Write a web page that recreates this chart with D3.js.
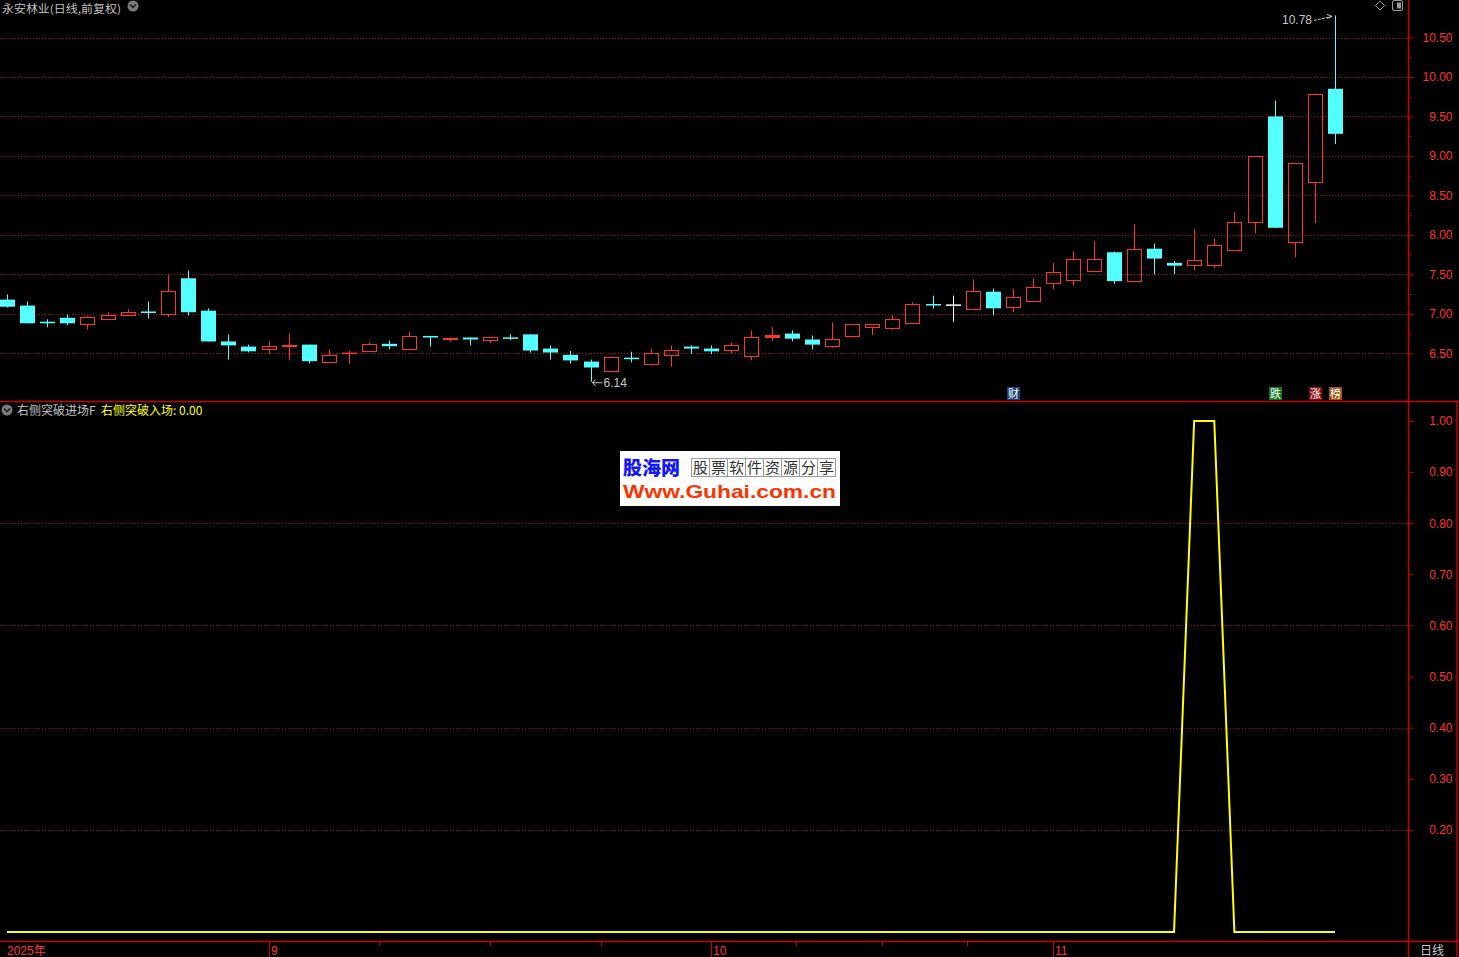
<!DOCTYPE html>
<html><head><meta charset="utf-8">
<script src="https://cdn.jsdelivr.net/npm/d3@7/dist/d3.min.js"></script>
<style>
html,body{margin:0;padding:0;background:#000;overflow:hidden}
svg{display:block}
text{font-family:"Noto Sans CJK SC","DejaVu Sans",sans-serif}
</style></head>
<body><svg id="c" width="1459" height="957"></svg>
<script>
// ---------------- data ----------------
const stockTitle = "永安林业(日线,前复权)";
const indicatorName = "右侧突破进场F";
const indicatorSeries = "右侧突破入场";
const opens  = [7.18,7.105,6.90,6.95,6.87,6.93,6.99,7.03,7.00,7.45,7.04,6.65,6.585,6.555,6.595,6.61,6.385,6.50,6.525,6.62,6.555,6.72,6.68,6.70,6.665,6.70,6.74,6.56,6.48,6.395,6.27,6.445,6.37,6.48,6.585,6.56,6.54,6.46,6.705,6.75,6.675,6.59,6.715,6.83,6.815,6.88,7.12,7.11,7.06,7.28,7.085,7.16,7.39,7.43,7.545,7.78,7.41,7.825,7.645,7.62,7.62,7.81,8.157,9.50,7.905,8.665,9.85];
const highs  = [7.245,7.156,6.93,6.99,6.97,7.02,7.06,7.156,7.49,7.55,7.07,6.74,6.61,6.65,6.75,6.61,6.55,6.53,6.63,6.66,6.775,6.72,6.70,6.70,6.71,6.74,6.74,6.60,6.53,6.42,6.46,6.52,6.56,6.60,6.60,6.60,6.635,6.79,6.83,6.79,6.725,6.89,6.865,6.87,6.98,7.145,7.23,7.23,7.435,7.32,7.32,7.445,7.64,7.79,7.92,7.79,8.135,7.89,7.67,8.07,7.95,8.285,9.00,9.70,8.91,9.79,10.78];
const lows   = [7.08,6.88,6.83,6.855,6.80,6.92,6.97,6.94,6.96,6.98,6.65,6.42,6.51,6.49,6.41,6.37,6.385,6.37,6.52,6.55,6.555,6.585,6.65,6.60,6.63,6.665,6.51,6.42,6.37,6.14,6.26,6.385,6.36,6.33,6.49,6.49,6.50,6.41,6.66,6.65,6.55,6.57,6.70,6.73,6.80,6.88,7.065,6.90,7.06,6.98,7.02,7.16,7.315,7.36,7.545,7.38,7.41,7.50,7.50,7.555,7.58,7.81,8.02,8.09,7.715,8.15,9.15];
const closes = [7.09,6.88,6.88,6.88,6.965,6.99,7.025,7.01,7.29,7.02,6.65,6.60,6.525,6.595,6.605,6.40,6.48,6.50,6.62,6.59,6.72,6.70,6.70,6.675,6.71,6.685,6.535,6.51,6.41,6.32,6.45,6.425,6.50,6.54,6.56,6.525,6.605,6.71,6.735,6.685,6.61,6.675,6.865,6.87,6.94,7.13,7.11,7.11,7.29,7.07,7.215,7.34,7.53,7.70,7.70,7.415,7.815,7.70,7.61,7.685,7.87,8.165,8.995,8.09,8.91,9.79,9.28];
const signal = [0,0,0,0,0,0,0,0,0,0,0,0,0,0,0,0,0,0,0,0,0,0,0,0,0,0,0,0,0,0,0,0,0,0,0,0,0,0,0,0,0,0,0,0,0,0,0,0,0,0,0,0,0,0,0,0,0,0,0,1,1,0,0,0,0,0,0];
const priceTicks = [6.5,7.0,7.5,8.0,8.5,9.0,9.5,10.0,10.5];
const priceMinorTicks = [6.75,7.25,7.75,8.25,8.75,9.25,9.75,10.25];
const signalTicks = [0.2,0.3,0.4,0.5,0.6,0.7,0.8,0.9,1.0];
const signalGrid = [0.2,0.4,0.6,0.8];
const monthLabels = ["2025年","9","10","11"];
const monthIndex  = [0,13,35,52];
const minorTimeTicks = [18.5,24,29.5,39.2,43.5,47.7];
const markers = [{t:"财",i:50},{t:"跌",i:63},{t:"涨",i:65},{t:"榜",i:66}];

// ---------------- drawing ----------------
const svg = d3.select("#c");
const W = 1459, H = 957, AX = 1408;
const RED = "#ff3232", CYAN = "#54ffff", GRID = "#b40000", FRAME = "#c80000";

const n = opens.length;
const x = d3.scaleLinear().domain([0, n-1]).range([7, 1335]);
const y = d3.scaleLinear().domain([6.5, 10.5]).range([353.3, 37.5]);
const y2 = d3.scaleLinear().domain([0, 1]).range([932, 421]);

svg.append("rect").attr("width",W).attr("height",H).attr("fill","#000");

// grid lines
const g = svg.append("g");
g.selectAll(".pg").data(priceTicks).join("line")
  .attr("x1",0).attr("x2",AX).attr("y1",d=>Math.round(y(d))+0.5).attr("y2",d=>Math.round(y(d))+0.5)
  .attr("stroke",GRID).attr("stroke-dasharray","1,2");
g.selectAll(".sg").data(signalGrid).join("line")
  .attr("x1",0).attr("x2",AX).attr("y1",d=>Math.round(y2(d))+0.5).attr("y2",d=>Math.round(y2(d))+0.5)
  .attr("stroke",GRID).attr("stroke-dasharray","1,2");

// frames
const fr = svg.append("g").attr("stroke",FRAME).attr("stroke-width",1.5);
fr.append("line").attr("x1",0).attr("x2",W).attr("y1",401.5).attr("y2",401.5);
fr.append("line").attr("x1",0).attr("x2",W).attr("y1",941.5).attr("y2",941.5);
fr.append("line").attr("x1",AX+0.5).attr("x2",AX+0.5).attr("y1",0).attr("y2",H);
fr.append("line").attr("x1",1457).attr("x2",1457).attr("y1",401.5).attr("y2",H);

// price axis
const ya = d3.axisRight(y).tickValues(priceTicks).tickSize(5).tickFormat(d3.format(".2f"));
const yag = svg.append("g").attr("transform",`translate(${AX+0.5},0)`).call(ya);
yag.select(".domain").remove();
yag.selectAll(".tick line").attr("stroke",FRAME);
yag.selectAll(".tick text").attr("fill",RED).attr("x",44).attr("text-anchor","end")
  .style("font-family","'Liberation Sans',Arial,sans-serif").style("font-size","12px");
const yam = d3.axisRight(y).tickValues(priceMinorTicks).tickSize(3).tickFormat("");
const yamg = svg.append("g").attr("transform",`translate(${AX+0.5},0)`).call(yam);
yamg.select(".domain").remove();
yamg.selectAll(".tick line").attr("stroke",FRAME);

// signal axis
const sa = d3.axisRight(y2).tickValues(signalTicks).tickSize(5).tickFormat(d3.format(".2f"));
const sag = svg.append("g").attr("transform",`translate(${AX+0.5},0)`).call(sa);
sag.select(".domain").remove();
sag.selectAll(".tick line").attr("stroke",FRAME);
sag.selectAll(".tick text").attr("fill",RED).attr("x",44).attr("text-anchor","end")
  .style("font-family","'Liberation Sans',Arial,sans-serif").style("font-size","12px");

// time axis
const tg = svg.append("g");
tg.selectAll(".mt").data(monthIndex.slice(1)).join("line")
  .attr("x1",d=>Math.round(x(d))+0.5).attr("x2",d=>Math.round(x(d))+0.5)
  .attr("y1",942).attr("y2",957).attr("stroke",FRAME);
tg.selectAll(".mtl").data(monthLabels).join("text")
  .attr("x",(d,i)=> i===0 ? 7 : Math.round(x(monthIndex[i]))+2).attr("y",955)
  .attr("fill",RED).style("font-size","12px").style("font-family","'Liberation Sans','Noto Sans CJK SC',sans-serif")
  .text(d=>d);
tg.selectAll(".st").data(minorTimeTicks).join("line")
  .attr("x1",d=>Math.round(x(d))+0.5).attr("x2",d=>Math.round(x(d))+0.5)
  .attr("y1",942).attr("y2",946).attr("stroke",FRAME);
svg.append("text").attr("x",1432).attr("y",955).attr("text-anchor","middle")
  .attr("fill","#c8c8c8").style("font-size","12px").text("日线");

// candles
const cg = svg.append("g");
const bw = 14;
for (let i=0;i<n;i++){
  const o=opens[i], c=closes[i], h=highs[i], l=lows[i];
  let col;
  if (c>o) col=RED; else if (c<o) col=CYAN;
  else { const pc = i>0?closes[i-1]:c; col = c>pc?RED:(c<pc?CYAN:"#ffffff"); }
  const cx = Math.round(x(i))+0.5;
  const top = y(Math.max(o,c)), bot = y(Math.min(o,c));
  if (c>o){
    const t = Math.round(top)+0.5, b = Math.round(bot)+0.5;
    cg.append("line").attr("x1",cx).attr("x2",cx).attr("y1",y(h)).attr("y2",t).attr("stroke",col);
    cg.append("line").attr("x1",cx).attr("x2",cx).attr("y1",b).attr("y2",y(l)).attr("stroke",col);
    if (b-t < 2.5){
      cg.append("rect").attr("x",cx-7.5).attr("y",t-0.5).attr("width",bw+1).attr("height",Math.max(2,b-t+1)).attr("fill",col);
    } else {
      cg.append("rect").attr("x",cx-7).attr("y",t).attr("width",bw).attr("height",b-t)
        .attr("fill","none").attr("stroke",col);
    }
  } else {
    cg.append("line").attr("x1",cx).attr("x2",cx).attr("y1",y(h)).attr("y2",y(l)).attr("stroke",col);
    const hh = Math.max(1.5, bot-top);
    cg.append("rect").attr("x",cx-7.5).attr("y",(top+bot)/2-hh/2).attr("width",bw+1).attr("height",hh).attr("fill",col);
  }
}

// max / min labels
const iMax = d3.maxIndex(highs), iMin = d3.minIndex(lows);
const mx = x(iMax), my = y(highs[iMax]);
svg.append("text").attr("x",mx-23).attr("y",my+9).attr("text-anchor","end")
  .attr("fill","#c8c8c8").style("font-size","12px").style("font-family","'Liberation Sans',Arial,sans-serif")
  .text(highs[iMax].toFixed(2));
svg.append("path").attr("d",`M${mx-21},${my+5} L${mx-3},${my+1}`).attr("stroke","#c8c8c8").attr("fill","none").attr("stroke-dasharray","3,1");
svg.append("path").attr("d",`M${mx-8},${my-1} L${mx-3},${my+1} L${mx-8},${my+3}`).attr("stroke","#c8c8c8").attr("fill","none");
const nx = x(iMin), ny = y(lows[iMin]);
svg.append("path").attr("d",`M${nx+2},${ny+1} L${nx+12},${ny+1}`).attr("stroke","#c8c8c8");
svg.append("path").attr("d",`M${nx+5},${ny-2} L${nx+2},${ny+1} L${nx+5},${ny+4}`).attr("stroke","#c8c8c8").attr("fill","none");
svg.append("text").attr("x",nx+13).attr("y",ny+5.5)
  .attr("fill","#c8c8c8").style("font-size","12px").style("font-family","'Liberation Sans',Arial,sans-serif")
  .text(lows[iMin].toFixed(2));

// markers
const mcol = {"财":"#1c3f7c","跌":"#0b7a1e","涨":"#8a0d0d","榜":"#9a5210"};
markers.forEach(m=>{
  const cx = Math.round(x(m.i));
  svg.append("rect").attr("x",cx-6).attr("y",387).attr("width",13).attr("height",13).attr("fill",mcol[m.t]);
  svg.append("text").attr("x",cx+0.5).attr("y",398).attr("text-anchor","middle").attr("fill","#ffffff")
    .style("font-size","11px").text(m.t);
});

// signal line
svg.append("path").datum(signal)
  .attr("d", d3.line().x((d,i)=>x(i)).y(d=>y2(d)))
  .attr("fill","none").attr("stroke","#ffff00").attr("stroke-width",2);

// titles
svg.append("text").attr("x",2).attr("y",13).attr("fill","#c0c0c0").style("font-size","11px")
  .attr("textLength",119).attr("lengthAdjust","spacingAndGlyphs").text(stockTitle);
function chevIcon(cx,cy){
  svg.append("circle").attr("cx",cx).attr("cy",cy).attr("r",5.5).attr("fill","#7a7a7a");
  svg.append("path").attr("d",`M${cx-3},${cy-1.5} L${cx},${cy+1.5} L${cx+3},${cy-1.5}`).attr("stroke","#1a1a1a").attr("stroke-width",1.5).attr("fill","none");
}
chevIcon(133,6);
chevIcon(7,410);
svg.append("text").attr("x",17).attr("y",414.5).attr("fill","#c0c0c0").style("font-size","12px").text(indicatorName);
svg.append("text").attr("x",101).attr("y",414.5).attr("fill","#ffff00").style("font-size","12px")
  .text(indicatorSeries + ": " + signal[n-1].toFixed(2));

// top-right icons
svg.append("path").attr("d","M1380,1 L1384.5,5.5 L1380,10 L1375.5,5.5 Z").attr("fill","none").attr("stroke","#9a9a9a");
svg.append("rect").attr("x",1392.5).attr("y",0.5).attr("width",10).attr("height",10).attr("rx",1.5).attr("fill","none").attr("stroke","#9a9a9a");
svg.append("rect").attr("x",1397).attr("y",2.5).attr("width",4).attr("height",6).attr("fill","#9a9a9a");

// watermark
const wm = svg.append("g");
wm.append("rect").attr("x",620).attr("y",451).attr("width",220).attr("height",55).attr("fill","#ffffff");
wm.append("text").attr("x",623).attr("y",475).attr("fill","#1414ff").style("font-size","19px").style("font-weight","900").text("股海网");
const wmChars = "股票软件资源分享".split("");
wm.selectAll(".wc").data(wmChars).join("rect").attr("x",(d,i)=>691.5+i*18).attr("y",458.5).attr("width",18).attr("height",18)
  .attr("fill","#ffffff").attr("stroke","#9a9a9a");
wm.selectAll(".wt").data(wmChars).join("text").attr("x",(d,i)=>700.5+i*18).attr("y",473).attr("text-anchor","middle")
  .attr("fill","#333").style("font-size","15px").style("font-family","'Noto Sans CJK SC',serif").text(d=>d);
wm.append("text").attr("x",623).attr("y",498).attr("fill","#ff3300").style("font-size","19px").style("font-weight","bold")
  .style("font-family","'Liberation Sans',Arial,sans-serif").attr("textLength",213).attr("lengthAdjust","spacingAndGlyphs").text("Www.Guhai.com.cn");
</script></body></html>
